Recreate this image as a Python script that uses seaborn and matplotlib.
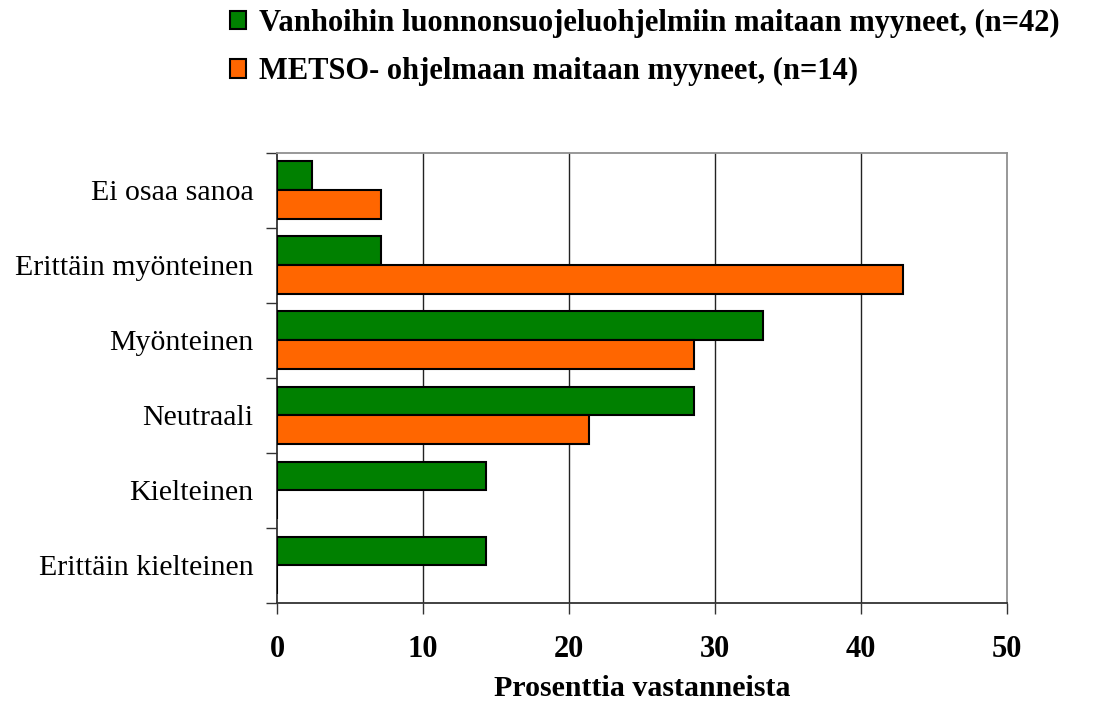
import matplotlib
matplotlib.use("Agg")
import matplotlib.pyplot as plt
from matplotlib.ticker import FixedLocator
import seaborn as sns
import pandas as pd

categories = ["Ei osaa sanoa", "Erittäin myönteinen", "Myönteinen",
              "Neutraali", "Kielteinen", "Erittäin kielteinen"]
vanhat = [2.4, 7.1, 33.3, 28.6, 14.3, 14.3]
metso = [7.1, 42.9, 28.6, 21.4, 0.0, 0.0]
series = ["Vanhoihin luonnonsuojeluohjelmiin maitaan myyneet, (n=42)",
          "METSO- ohjelmaan maitaan myyneet, (n=14)"]
colors = ["#008000", "#FF6600"]
xticks = [0, 10, 20, 30, 40, 50]

df = pd.DataFrame({
    "kategoria": categories * 2,
    "arvo": vanhat + metso,
    "ryhma": [series[0]] * len(categories) + [series[1]] * len(categories),
})

sns.set_style("white")
plt.rcParams["font.family"] = ["Liberation Serif", "DejaVu Serif"]
plt.rcParams["text.color"] = "black"
plt.rcParams["xtick.color"] = "black"
plt.rcParams["ytick.color"] = "black"
plt.rcParams["axes.labelcolor"] = "black"

fig = plt.figure(figsize=(10.99, 7.04), dpi=100)
ax = fig.add_axes([0.252, 0.1435, 0.664, 0.6395])

sns.barplot(data=df, y="kategoria", x="arvo", hue="ryhma", order=categories,
            hue_order=series, palette=colors, saturation=1, orient="h", width=0.77,
            edgecolor="black", linewidth=1.5, ax=ax, zorder=3)

ax.set_xlim(0, 50)
ax.set_ylim(5.5, -0.5)

# grid
for v in xticks[1:-1]:
    ax.axvline(v, color="#222222", linewidth=1, zorder=1)

# spines
for s in ["top", "right"]:
    ax.spines[s].set_color("#909090")
    ax.spines[s].set_linewidth(1.3)
for s in ["left", "bottom"]:
    ax.spines[s].set_color("#333333")
    ax.spines[s].set_linewidth(1.3)

ax.set_xticks(xticks)
ax.set_xticklabels([str(t) for t in xticks], fontsize=22, fontweight="bold")
ax.tick_params(axis="x", direction="out", length=8, width=1, color="#333333",
               pad=15, bottom=True)

ax.set_yticks(range(len(categories)))
ax.set_yticklabels(categories, fontsize=21.5)
ax.tick_params(axis="y", which="major", length=0, pad=17)
ax.yaxis.set_minor_locator(FixedLocator([i - 0.5 for i in range(len(categories) + 1)]))
ax.tick_params(axis="y", which="minor", direction="out", length=8, width=1,
               color="#333333", left=True)

ax.set_ylabel("")
ax.set_xlabel("Prosenttia vastanneista", fontsize=21.5, fontweight="bold", labelpad=8)

handles, labels = ax.get_legend_handles_labels()
ax.get_legend().remove()
fig.legend(handles, labels, loc="upper left", bbox_to_anchor=(0.209, 0.988),
           frameon=False, prop={"family": "Liberation Serif", "weight": "bold", "size": 22},
           handlelength=0.55, handleheight=0.55, handletextpad=0.4,
           labelspacing=0.65, borderpad=0, borderaxespad=0)

fig.savefig("out.png", dpi=100)
